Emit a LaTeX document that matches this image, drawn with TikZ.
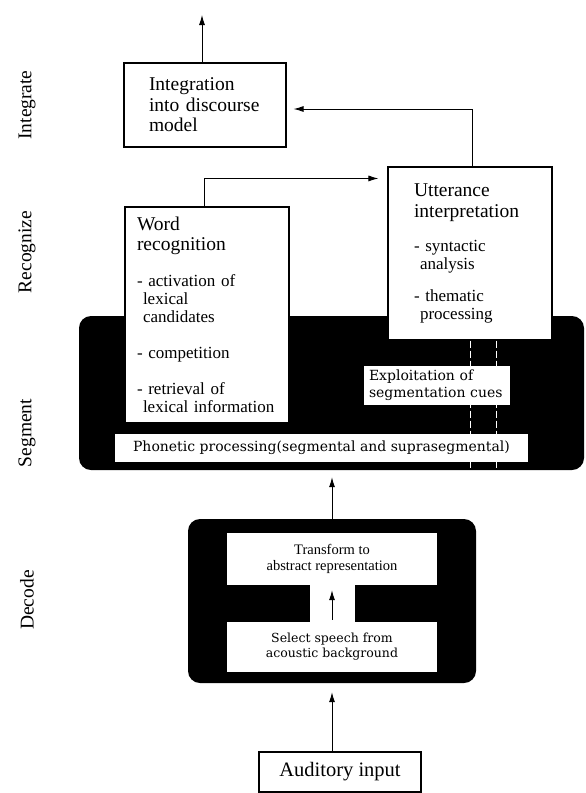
\documentclass[tikz,border=0pt]{standalone}
\usepackage{fontspec}
\usetikzlibrary{arrows.meta}
\setmainfont{Liberation Serif}
\newfontfamily\schoolfont{DejaVu Serif}
\newcommand{\headsize}{\fontsize{19.5}{20.5}\selectfont}
\newcommand{\bodysize}{\fontsize{17}{18}\selectfont}

\begin{document}
\begin{tikzpicture}[x=1pt, y=-1pt,
    stagelabel/.style = {rotate=90, font=\headsize},
    blackframe/.style = {fill=black, rounded corners=12pt, inner sep=0pt},
    whitebox/.style = {draw, fill=white, line width=1.1pt, inner sep=0pt, align=left, font=\bodysize},
    cuebox/.style = {fill=white, inner sep=0pt, font=\schoolfont\fontsize{14}{17}\selectfont},
    link/.style = {-{Latex[length=10pt, width=6pt]}, line width=0.9pt},
    cueline/.style = {white, line width=1pt, dash pattern=on 7pt off 3pt}]
  \useasboundingbox (0,0) rectangle (586,793);

  \node [stagelabel] (lint) at (27,105) {Integrate};
  \node [stagelabel] (lrec) at (27,252) {Recognize};
  \node [stagelabel] (lseg) at (27,433) {Segment};
  \node [stagelabel] (ldec) at (27,600) {Decode};

  % black frames
  \node [blackframe, minimum width=505pt, minimum height=154pt] (seg) at (331.5,393) {};
  \node [blackframe, minimum width=288pt, minimum height=164pt] (dec) at (332,601) {};

  \node [whitebox, minimum width=164pt, minimum height=216pt, text width=140pt] (wr) at (207,315)
    {{\headsize Word\\recognition\par}\vspace{18pt}
     - activation of\\\hspace*{6pt}lexical\\\hspace*{6pt}candidates\par\vspace{18pt}
     - competition\par\vspace{18pt}
     - retrieval of\\\hspace*{6pt}lexical information};
  \node [whitebox, minimum width=164pt, minimum height=173pt, text width=112pt] (utt) at (470,253.5)
    {{\headsize Utterance\\interpretation\par}\vspace{16pt}
     - syntactic\\\hspace*{6pt}analysis\par\vspace{14pt}
     - thematic\\\hspace*{6pt}processing\par\vspace*{17pt}};
  \node [whitebox, minimum width=162pt, minimum height=84pt, text width=112pt, font=\headsize] (intg) at (205,105)
    {Integration\\into discourse\\model};

  \draw [cueline] (utt.south) -- (utt.south |- seg.south);
  \draw [cueline] ([xshift=26pt]utt.south) -- ([xshift=26pt]utt.south |- seg.south);

  \node [cuebox, minimum width=146pt, minimum height=39pt, text width=136pt, align=left] (expl) at (437,385.5)
    {Exploitation of\\segmentation cues};
  \node [cuebox, minimum width=413pt, minimum height=28pt] (phon) at (321.5,448)
    {Phonetic processing(segmental and suprasegmental)};

  % decode stage
  \node [fill=white, minimum width=210pt, minimum height=52pt, align=center, font=\fontsize{14.5}{16.5}\selectfont] (trans) at (332,559)
    {Transform to\\abstract representation};
  \node [fill=white, minimum width=210pt, minimum height=50pt, align=center, font=\schoolfont\fontsize{12.5}{15}\selectfont] (sel) at (332,647)
    {Select speech from\\acoustic background};
  \fill [white] ([xshift=-22pt]trans.south) rectangle ([xshift=23pt]sel.north);
  \draw [link, shorten <=2pt, shorten >=5pt] (sel.north) -- (trans.south);

  \node [draw, line width=1.1pt, minimum width=162pt, minimum height=40pt, font=\fontsize{20.5}{22}\selectfont] (aud) at (340,772) {Auditory input};

  \coordinate (out) at (202,15);
  \draw [link] ([xshift=-3pt]intg.north) -- (out);
  \draw [link, shorten >=7pt] ([xshift=2pt]utt.north) |- ([yshift=-4pt]intg.east);
  \draw [link, shorten >=9pt] ([xshift=-3pt]wr.north) |- ([yshift=-12pt]utt.north west);
  \draw [link, shorten >=7pt] (dec.north) -- (dec.north |- seg.south);
  \draw [link, shorten >=9pt] (aud.north -| dec.south) -- (dec.south);
\end{tikzpicture}
\end{document}
